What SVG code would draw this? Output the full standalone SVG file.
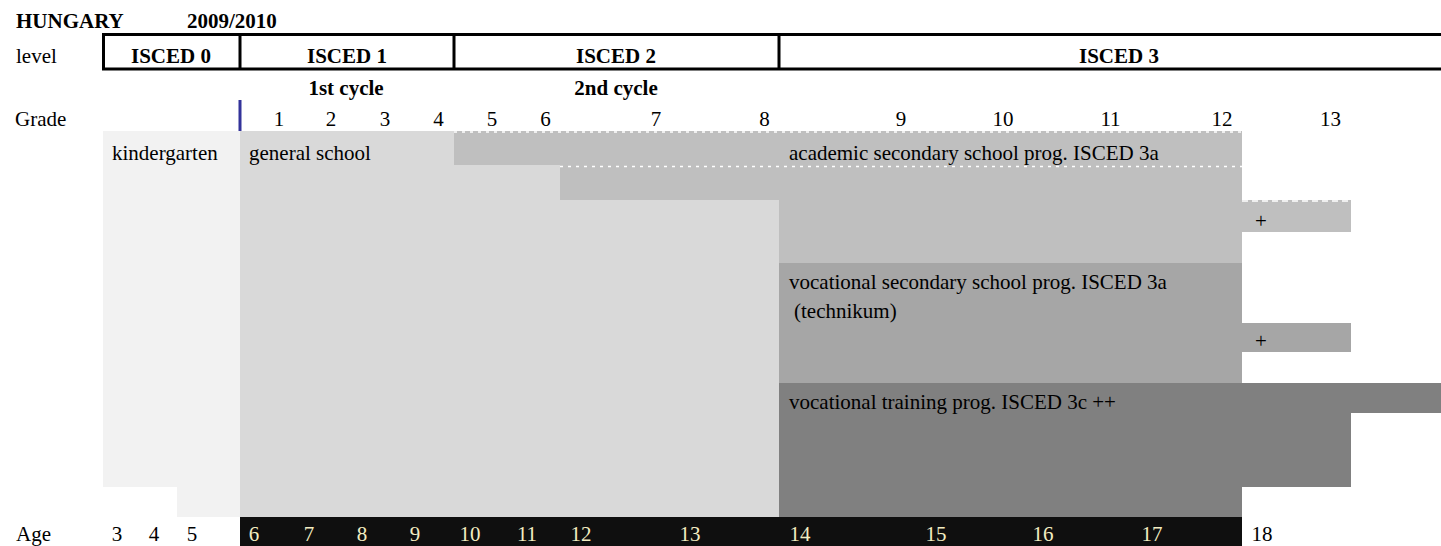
<svg xmlns="http://www.w3.org/2000/svg" width="1441" height="546" viewBox="0 0 1441 546">
<style>
text{font-family:"Liberation Serif","Times New Roman",serif;font-size:21px;fill:#000}
.b{font-weight:bold}
.m{text-anchor:middle}
.age{fill:#f3edc2}
.frame{stroke:#000;stroke-width:3;fill:none}
.dot{stroke:#fff;stroke-width:1.3;stroke-dasharray:3 5;fill:none}
.dash{stroke:#fff;stroke-width:1.3;stroke-dasharray:6 4;fill:none}
</style>
<rect width="1441" height="546" fill="#fff"/>
<g id="title">
<text class="b" x="16" y="28">HUNGARY</text>
<text class="b" x="187" y="28">2009/2010</text>
</g>
<g id="levels">
<text x="16" y="63">level</text>
<path class="frame" d="M102 34.5H1441M102 69H1441M103.5 33V70.5M240 33V70.5M454 33V70.5M779 33V70.5"/>
<text class="b m" x="171" y="63">ISCED 0</text>
<text class="b m" x="347" y="63">ISCED 1</text>
<text class="b m" x="616" y="63">ISCED 2</text>
<text class="b m" x="1119" y="63">ISCED 3</text>
</g>
<g id="cycles">
<text class="b m" x="346" y="95">1st cycle</text>
<text class="b m" x="616" y="95">2nd cycle</text>
</g>
<g id="grades">
<text x="15" y="126">Grade</text>
<rect x="238.5" y="100" width="3" height="31" fill="#33339a"/>
<text class="m" x="279" y="126">1</text>
<text class="m" x="331" y="126">2</text>
<text class="m" x="385" y="126">3</text>
<text class="m" x="438.5" y="126">4</text>
<text class="m" x="492" y="126">5</text>
<text class="m" x="545.5" y="126">6</text>
<text class="m" x="656" y="126">7</text>
<text class="m" x="764.5" y="126">8</text>
<text class="m" x="901" y="126">9</text>
<text class="m" x="1003" y="126">10</text>
<text class="m" x="1110.5" y="126">11</text>
<text class="m" x="1222" y="126">12</text>
<text class="m" x="1330.5" y="126">13</text>
</g>
<g id="kindergarten">
<path fill="#f2f2f2" d="M103 131H240V517H177V487H103Z"/>
<text x="112" y="160">kindergarten</text>
</g>
<g id="general-school">
<rect x="240" y="131" width="539" height="386" fill="#d9d9d9"/>
<text x="249" y="160">general school</text>
</g>
<g id="academic">
<path fill="#bfbfbf" d="M454 131H1242V200H1351V232H1242V263H779V200H560V165H454Z"/>
<text x="789" y="160">academic secondary school prog. ISCED 3a</text>
<text x="1255" y="228">+</text>
</g>
<g id="vocational-secondary">
<path fill="#a6a6a6" d="M779 263H1242V323H1351V352H1242V383H779Z"/>
<text x="789" y="289">vocational secondary school prog. ISCED 3a</text>
<text x="794" y="318">(technikum)</text>
<text x="1255" y="348">+</text>
</g>
<g id="vocational-training">
<path fill="#808080" d="M779 383H1441V413H1351V487H1242V517H779Z"/>
<text x="789" y="409">vocational training prog. ISCED 3c ++</text>
</g>
<g id="connectors">
<path class="dot" d="M454 132H1242M560 166.5H1242"/>
<path class="dash" d="M1242 201H1351"/>
</g>
<g id="ages">
<rect x="240" y="517" width="1002" height="29" fill="#0f0f0f"/>
<text x="16" y="541">Age</text>
<text class="m" x="117" y="541">3</text>
<text class="m" x="154" y="541">4</text>
<text class="m" x="192" y="541">5</text>
<text class="m age" x="254" y="541">6</text>
<text class="m age" x="309" y="541">7</text>
<text class="m age" x="362" y="541">8</text>
<text class="m age" x="415" y="541">9</text>
<text class="m age" x="470" y="541">10</text>
<text class="m age" x="527" y="541">11</text>
<text class="m age" x="581" y="541">12</text>
<text class="m age" x="690" y="541">13</text>
<text class="m age" x="800" y="541">14</text>
<text class="m age" x="936" y="541">15</text>
<text class="m age" x="1043" y="541">16</text>
<text class="m age" x="1152" y="541">17</text>
<text class="m" x="1262" y="541">18</text>
</g>
</svg>
